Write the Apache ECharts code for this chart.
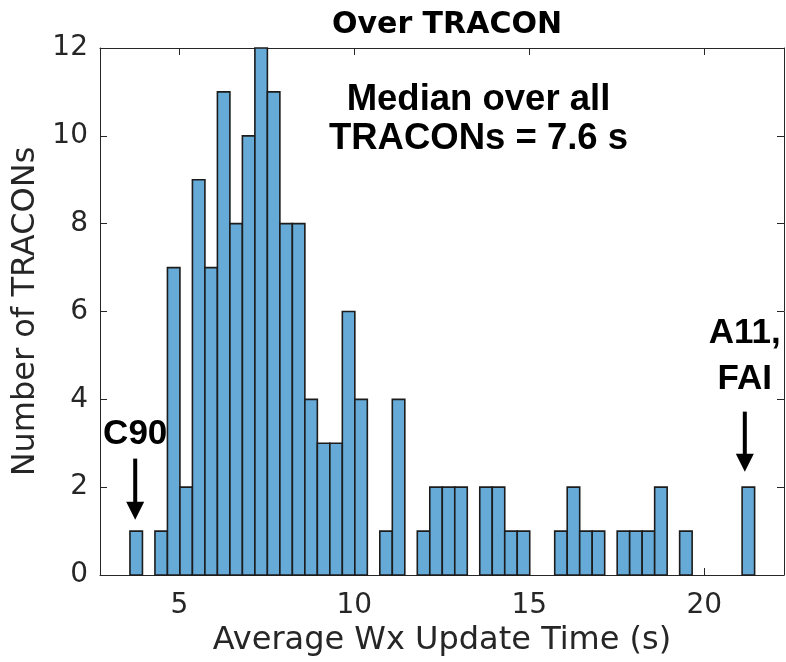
<!DOCTYPE html>
<html>
<head>
<meta charset="utf-8">
<script src="https://cdn.jsdelivr.net/npm/echarts@6/dist/echarts.min.js"></script>
<style>
  html, body { margin: 0; padding: 0; background: #ffffff; }
  #chart { width: 786px; height: 662px; }
</style>
</head>
<body>
<div id="chart"></div>
<script>
// Histogram of average weather update time per TRACON, 50 equal-width bins
const binStart = 3.59;   // left edge of the first bin (s)
const binWidth = 0.357;  // width of each bin (s)
const counts = [
  1, 0, 1, 7, 2, 9, 7, 11, 8, 10,
  12, 11, 8, 8, 4, 3, 3, 6, 4, 0,
  1, 4, 0, 1, 2, 2, 2, 0, 2, 2,
  1, 1, 0, 0, 1, 2, 1, 1, 0, 1,
  1, 1, 2, 0, 1, 0, 0, 0, 0, 2
];
const xTicks = [5, 10, 15, 20];
const xRange = [2.734, 22.28];
const yRange = [0, 12];
const yStep = 2;

// Callouts: [label, x, label y, arrow top y, arrow tip y]
const callouts = [
  ['C90', 3.74, 3.2, 2.65, 1.26],
  ['A11,\nFAI', 21.16, 4.97, 3.72, 2.35]
];
const medianNote = ['Median over all\nTRACONs = 7.6 s', 13.55, 10.37];

const bins = counts.map((c, i) => [binStart + i * binWidth, binStart + (i + 1) * binWidth, c]);

const axisColor = '#262626';
const tickFont = 'DejaVu Sans';

const chart = echarts.init(document.getElementById('chart'), null, { renderer: 'canvas' });

function frameAxisX(pos, main) {
  return {
    type: 'value', position: pos, min: xRange[0], max: xRange[1],
    axisLine: { show: true, onZero: false, lineStyle: { color: axisColor, width: 1 } },
    axisTick: { show: true, inside: true, length: 7, customValues: xTicks, lineStyle: { color: axisColor, width: 1 } },
    axisLabel: main ? {
      show: true, customValues: xTicks, margin: 17, color: axisColor,
      fontFamily: tickFont, fontSize: 28
    } : { show: false },
    splitLine: { show: false },
    name: main ? 'Average Wx Update Time (s)' : '',
    nameLocation: 'middle', nameGap: 45,
    nameTextStyle: { color: axisColor, fontFamily: tickFont, fontSize: 32 }
  };
}
function frameAxisY(pos, main) {
  return {
    type: 'value', position: pos, min: yRange[0], max: yRange[1], interval: yStep,
    axisLine: { show: true, onZero: false, lineStyle: { color: axisColor, width: 1 } },
    axisTick: { show: true, inside: true, length: 7, lineStyle: { color: axisColor, width: 1 } },
    axisLabel: main ? {
      show: true, margin: 12, color: axisColor, fontFamily: tickFont, fontSize: 28
    } : { show: false },
    splitLine: { show: false },
    name: main ? 'Number of TRACONs' : '',
    nameLocation: 'middle', nameGap: 54, nameRotate: 90,
    nameTextStyle: { color: axisColor, fontFamily: tickFont, fontSize: 32 }
  };
}

chart.setOption({
  animation: false,
  backgroundColor: '#ffffff',
  title: {
    text: 'Over TRACON', left: 442, top: 5, textAlign: 'center',
    textStyle: { fontFamily: tickFont, fontWeight: 'bold', fontSize: 30, color: '#000000' }
  },
  grid: { left: 100, right: 2, top: 48, bottom: 87, containLabel: false },
  xAxis: [frameAxisX('bottom', true), frameAxisX('top', false)],
  yAxis: [frameAxisY('left', true), frameAxisY('right', false)],
  series: [
    {
      type: 'custom',
      name: 'TRACONs',
      xAxisIndex: 0, yAxisIndex: 0,
      data: bins,
      encode: { x: [0, 1], y: 2 },
      renderItem: function (params, api) {
        const c = api.value(2);
        if (!c) return null;
        const p0 = api.coord([api.value(0), c]);
        const p1 = api.coord([api.value(1), 0]);
        return {
          type: 'rect',
          shape: { x: p0[0], y: p0[1], width: p1[0] - p0[0], height: p1[1] - p0[1] },
          style: { fill: '#66aad7', stroke: '#1c1c1c', lineWidth: 1.6 }
        };
      }
    },
    {
      type: 'custom',
      name: 'callouts',
      xAxisIndex: 0, yAxisIndex: 0,
      silent: true,
      data: callouts.map(c => [c[1], c[2], c[3], c[4]]),
      encode: { x: 0, y: 1 },
      renderItem: function (params, api) {
        const c = callouts[params.dataIndex];
        const lab = api.coord([c[1], c[2]]);
        const top = api.coord([c[1], c[3]]);
        const tip = api.coord([c[1], c[4]]);
        const headH = 18, headW = 18;
        return {
          type: 'group',
          children: [
            {
              type: 'text',
              style: {
                text: c[0], x: lab[0], y: lab[1], align: 'center', verticalAlign: 'middle',
                font: 'bold 35px "Liberation Sans", Arial, sans-serif', fill: '#000000', lineHeight: 46
              }
            },
            {
              type: 'line',
              shape: { x1: tip[0], y1: top[1], x2: tip[0], y2: tip[1] - headH + 2 },
              style: { stroke: '#000000', lineWidth: 4 }
            },
            {
              type: 'polygon',
              shape: { points: [[tip[0] - headW / 2, tip[1] - headH], [tip[0] + headW / 2, tip[1] - headH], [tip[0], tip[1]]] },
              style: { fill: '#000000' }
            }
          ]
        };
      }
    },
    {
      type: 'custom',
      name: 'median',
      xAxisIndex: 0, yAxisIndex: 0,
      silent: true,
      data: [[medianNote[1], medianNote[2]]],
      encode: { x: 0, y: 1 },
      renderItem: function (params, api) {
        const p = api.coord([api.value(0), api.value(1)]);
        return {
          type: 'text',
          style: {
            text: medianNote[0], x: p[0], y: p[1], align: 'center', verticalAlign: 'middle',
            font: 'bold 36.5px "Liberation Sans", Arial, sans-serif', fill: '#000000', lineHeight: 39
          }
        };
      }
    }
  ]
});
</script>
</body>
</html>
